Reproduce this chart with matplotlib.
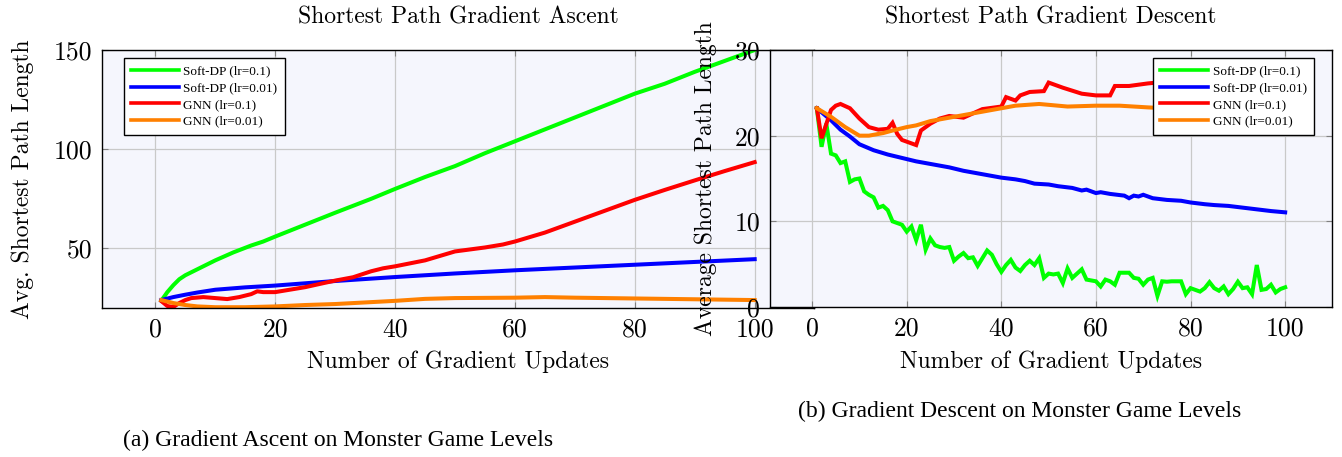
import matplotlib
matplotlib.use("Agg")
import matplotlib.pyplot as plt

plt.rcParams['font.family'] = ['Liberation Serif', 'DejaVu Serif']

# ---------------- data ----------------
series_labels = ["Soft-DP (lr=0.1)", "Soft-DP (lr=0.01)", "GNN (lr=0.1)", "GNN (lr=0.01)"]
series_colors = ["#00ff00", "#0000ff", "#ff0000", "#ff8000"]

# Gradient ascent panel
asc_green_x = [1, 2, 3, 4, 5, 7, 10, 13, 16, 17, 18, 20, 25, 30, 33, 36, 40, 45, 50, 55, 60, 65, 70, 75, 80, 85, 90, 95, 100]
asc_green_y = [23.7, 28, 31.5, 34.5, 36.5, 39.5, 44, 48, 51.5, 52.5, 53.5, 56, 62, 68, 71.5, 75, 80, 86, 91.5, 98, 104, 110, 116, 122, 128, 133, 139, 144.5, 150]

asc_blue_x = [1, 3, 5, 7, 10, 15, 20, 30, 40, 50, 60, 70, 80, 90, 100]
asc_blue_y = [24, 25.5, 26.7, 27.8, 29.2, 30.4, 31.3, 33.6, 35.6, 37.4, 39, 40.4, 41.8, 43.2, 44.6]

asc_red_x = [1, 2, 3, 4, 5, 6, 8, 10, 12, 14, 16, 17, 18, 20, 22, 25, 28, 30, 33, 36, 38, 40, 45, 50, 55, 58, 60, 65, 70, 75, 80, 85, 90, 95, 100]
asc_red_y = [23.5, 21, 20.5, 22.5, 24, 25, 25.5, 25, 24.5, 25.5, 27, 28.4, 28, 28, 29, 30.5, 32.5, 33.8, 35.5, 38.5, 40, 41, 44, 48.5, 50.5, 52, 53.5, 58, 63.5, 69, 74.5, 79.5, 84.3, 89, 93.5]

asc_orange_x = [1, 3, 5, 7, 10, 15, 20, 25, 30, 35, 40, 45, 50, 55, 60, 65, 70, 75, 80, 90, 100]
asc_orange_y = [24, 22.5, 21.5, 20.8, 20.4, 20.4, 20.8, 21.5, 22, 22.8, 23.6, 24.6, 25, 25.1, 25.2, 25.5, 25.2, 25, 24.8, 24.4, 24]

# Gradient descent panel
desc_green_x = list(range(1, 101))
desc_green_y = [23.2, 18.7, 21.4, 17.9, 17.7, 16.8, 17.0, 14.6, 14.9, 15.0,
                13.5, 13.1, 12.8, 11.6, 11.8, 11.3, 10.0, 9.8, 9.6, 8.8,
                9.4, 7.8, 9.6, 6.7, 8.0, 7.2, 7.0, 6.9, 7.0, 5.4,
                5.9, 6.3, 5.7, 5.8, 4.8, 5.7, 6.6, 6.1, 5.0, 4.1,
                4.9, 5.5, 4.6, 4.2, 4.9, 5.4, 4.9, 5.7, 3.4, 3.9,
                3.8, 3.9, 2.8, 4.5, 3.4, 3.9, 4.4, 3.2, 3.1, 3.0,
                2.4, 3.2, 3.0, 2.6, 4.0, 4.0, 4.0, 3.4, 3.3, 2.6,
                3.2, 3.4, 1.3, 3.0, 2.95, 3.0, 3.0, 3.0, 1.5, 2.2,
                2.0, 1.8, 2.2, 2.9, 2.2, 1.9, 2.4, 1.5, 2.1, 2.95,
                2.2, 2.3, 1.5, 4.9, 2.0, 2.1, 2.6, 1.7, 2.1, 2.3]

desc_blue_x = [1, 4, 6, 8, 10, 13, 16, 19, 22, 24, 27, 29, 32, 35, 37, 40, 43, 45, 47, 50, 52, 55, 57, 58, 60, 61, 63, 66, 67, 68, 69, 70, 72, 75, 78, 80, 83, 85, 88, 91, 94, 97, 100]
desc_blue_y = [23.2, 21.8, 20.7, 19.9, 19.0, 18.3, 17.8, 17.4, 17.0, 16.8, 16.5, 16.3, 15.9, 15.6, 15.4, 15.1, 14.9, 14.7, 14.4, 14.3, 14.1, 13.9, 13.6, 13.7, 13.3, 13.4, 13.2, 13.0, 12.7, 13.0, 12.9, 13.1, 12.7, 12.5, 12.4, 12.2, 12.0, 11.9, 11.8, 11.6, 11.4, 11.2, 11.05]

desc_red_x = [1, 2, 4, 5, 6, 8, 10, 12, 14, 16, 17, 18, 19, 22, 23, 25, 27, 29, 32, 34, 36, 40, 41, 43, 44, 46, 49, 50, 53, 57, 60, 63, 64, 67, 71, 75, 80, 85, 90, 95, 100]
desc_red_y = [23.2, 19.7, 23.0, 23.5, 23.7, 23.2, 22.0, 21.0, 20.7, 20.8, 21.5, 20.2, 19.5, 18.9, 20.6, 21.4, 22.0, 22.3, 22.1, 22.6, 23.1, 23.4, 24.5, 24.1, 24.7, 25.1, 25.2, 26.2, 25.6, 24.9, 24.7, 24.7, 25.8, 25.8, 26.1, 26.3, 26.0, 26.4, 26.2, 26.5, 26.4]

desc_orange_x = [1, 4, 7, 10, 12, 15, 17, 20, 22, 25, 29, 33, 36, 40, 43, 48, 54, 60, 65, 71, 75, 80, 90, 100]
desc_orange_y = [23.2, 22.2, 21.0, 20.0, 20.0, 20.3, 20.6, 21.0, 21.2, 21.7, 22.1, 22.5, 22.8, 23.2, 23.5, 23.7, 23.4, 23.5, 23.5, 23.3, 23.2, 23.2, 23.1, 23.0]

x_ticks = [0, 20, 40, 60, 80, 100]
asc_y_ticks = [50, 100, 150]
desc_y_ticks = [0, 10, 20, 30]

# ---------------- figure ----------------
W, H = 1342, 457
fig = plt.figure(figsize=(W / 100, H / 100), dpi=100)

def frac(x0, y0, x1, y1):
    return [x0 / W, 1 - y1 / H, (x1 - x0) / W, (y1 - y0) / H]

ax1 = fig.add_axes(frac(102, 50, 814, 308))
ax2 = fig.add_axes(frac(770, 50, 1332, 307))

BG = "#f5f6fd"
FS_TICK = 18.5
FS_LAB = 17
CM = "cmr10"
LW = 2.9

def style(ax):
    ax.set_facecolor(BG)
    ax.grid(True, color="#c9c9c9", linewidth=0.9)
    ax.set_axisbelow(True)
    ax.tick_params(direction="in", length=4, width=0.8, color="#808080",
                   top=True, right=True, labelsize=FS_TICK, pad=7,
                   labelfontfamily=CM)
    for s in ax.spines.values():
        s.set_linewidth(1.0)
        s.set_color("black")
    ax.set_xticks(x_ticks)
    ax.set_xlim(-8.9, 109.9)

style(ax1)
style(ax2)

asc = [(asc_green_x, asc_green_y), (asc_blue_x, asc_blue_y), (asc_red_x, asc_red_y), (asc_orange_x, asc_orange_y)]
desc = [(desc_green_x, desc_green_y), (desc_blue_x, desc_blue_y), (desc_red_x, desc_red_y), (desc_orange_x, desc_orange_y)]

for (xs, ys), c, lab in zip(asc, series_colors, series_labels):
    ax1.plot(xs, ys, color=c, lw=LW, label=lab, solid_joinstyle="round")
for (xs, ys), c, lab in zip(desc, series_colors, series_labels):
    ax2.plot(xs, ys, color=c, lw=LW, label=lab, solid_joinstyle="miter")

ax1.set_ylim(20, 150)
ax1.set_yticks(asc_y_ticks)
ax2.set_ylim(0, 30)
ax2.set_yticks(desc_y_ticks)

tkw = dict(fontsize=FS_LAB, fontfamily=CM)
ax1.set_title("Shortest Path Gradient Ascent", pad=19, **tkw)
ax2.set_title("Shortest Path Gradient Descent", pad=19, **tkw)
ax1.set_xlabel("Number of Gradient Updates", **tkw)
ax2.set_xlabel("Number of Gradient Updates", **tkw)
ax1.set_ylabel("Avg. Shortest Path Length", **tkw)
ax2.set_ylabel("Average Shortest Path Length", **tkw)
ax1.xaxis.set_label_coords(0.5, -0.165)
ax2.xaxis.set_label_coords(0.5, -0.169)
ax1.yaxis.set_label_coords(-0.095, 0.5)
ax2.yaxis.set_label_coords(-0.095, 0.5)

leg_kw = dict(fontsize=9.5, frameon=True, fancybox=False, framealpha=1.0,
              edgecolor="black", handlelength=3.6, handletextpad=0.35,
              labelspacing=0.34, borderpad=0.55, borderaxespad=0.0)
l1 = ax1.legend(loc="upper left", bbox_to_anchor=(124 / W, 1 - 58 / H),
                bbox_transform=fig.transFigure, **leg_kw)
l2 = ax2.legend(loc="upper right", bbox_to_anchor=(1314 / W, 1 - 58 / H),
                bbox_transform=fig.transFigure, **leg_kw)
for l in (l1, l2):
    l.get_frame().set_linewidth(1.0)
    for h in l.get_lines():
        h.set_linewidth(2.6)

fig.text(338 / W, 1 - 440 / H, "(a) Gradient Ascent on Monster Game Levels",
         ha="center", va="center", fontsize=17)
fig.text(1020 / W, 1 - 411 / H, "(b) Gradient Descent on Monster Game Levels",
         ha="center", va="center", fontsize=17)

fig.savefig("out.png", dpi=100)
